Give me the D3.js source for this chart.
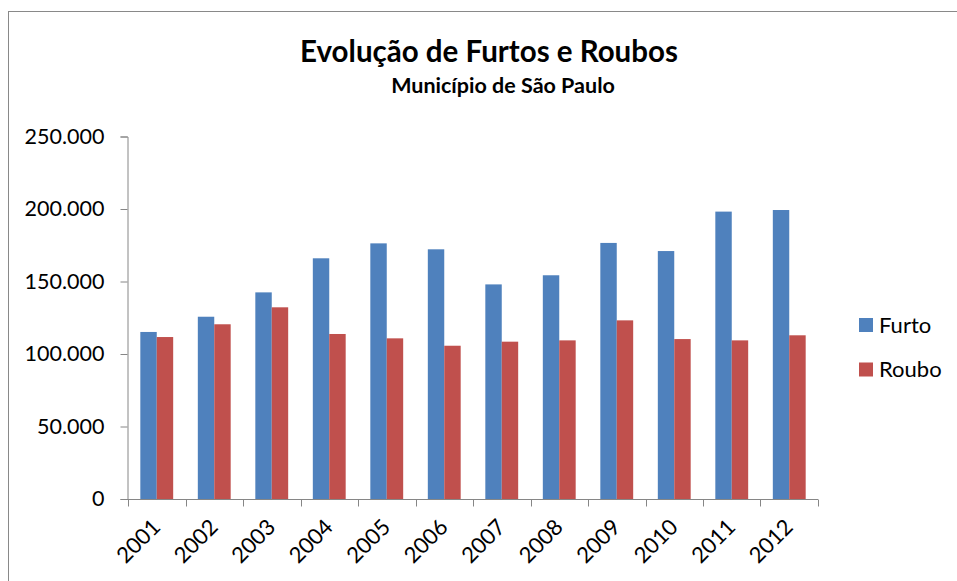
<!DOCTYPE html>
<html>
<head>
<meta charset="utf-8">
<script src="https://cdn.jsdelivr.net/npm/d3@7"></script>
<style>
  html, body { margin: 0; padding: 0; background: #fff; }
  svg { display: block; }
  text { font-family: Lato, "Open Sans", sans-serif; fill: #000; }
</style>
</head>
<body>
<svg id="chart" width="957" height="581"></svg>
<script>
const years = ["2001","2002","2003","2004","2005","2006","2007","2008","2009","2010","2011","2012"];
const furto = [115200,125700,142500,166000,176300,172200,148000,154300,176600,171000,198200,199300];
const roubo = [111700,120500,132200,113800,110800,105700,108500,109400,123200,110300,109400,112900];
const seriesNames = ["Furto","Roubo"];
const seriesColors = ["#4F81BD","#C0504D"];
const yTicks = [0,50000,100000,150000,200000,250000];
const title = "Evolução de Furtos e Roubos";
const subtitle = "Município de São Paulo";

const svg = d3.select("#chart");
const axisColor = "#868686";

// chart border
svg.append("rect")
  .attr("x", 8.5).attr("y", 11.5)
  .attr("width", 960).attr("height", 600)
  .attr("fill", "#fff").attr("stroke", "#898989").attr("stroke-width", 1);

const x0 = d3.scaleBand().domain(years).range([128, 818])
  .paddingInner(1.5/3.5).paddingOuter(0.75/3.5);
const x1 = d3.scaleBand().domain(seriesNames).range([0, x0.bandwidth()]);
const y = d3.scaleLinear().domain([0, 250000]).range([499, 136.5]);

const fmt = v => d3.format(",")(v).replace(/,/g, ".");

// bars
const data = years.map((yr, i) => ({year: yr, values: [furto[i], roubo[i]]}));
const groups = svg.append("g").selectAll("g").data(data).join("g")
  .attr("transform", d => `translate(${x0(d.year)},0)`);
groups.selectAll("rect").data(d => d.values.map((v, j) => ({v, j})))
  .join("rect")
  .attr("x", d => x1(seriesNames[d.j]))
  .attr("y", d => y(d.v))
  .attr("width", x1.bandwidth())
  .attr("height", d => y(0) - y(d.v))
  .attr("fill", d => seriesColors[d.j]);

// y axis
const yAxis = svg.append("g").attr("transform", "translate(127.5,0)")
  .call(d3.axisLeft(y).tickValues(yTicks).tickFormat(fmt).tickSize(7).tickPadding(16));
yAxis.select(".domain").attr("stroke", axisColor);
yAxis.selectAll(".tick line").attr("stroke", axisColor);
yAxis.selectAll(".tick text").attr("font-size", "21.5px").attr("font-family", "Lato").attr("fill", "#000");

// x axis
const xLin = d3.scaleLinear().domain([0, years.length]).range([128, 818]);
const xAxisG = svg.append("g").attr("transform", "translate(0,499.5)");
xAxisG.append("line").attr("x1", 127.5).attr("x2", 818).attr("stroke", axisColor);
xAxisG.selectAll("line.tk").data(d3.range(years.length + 1)).join("line")
  .attr("class", "tk")
  .attr("x1", i => Math.round(xLin(i)) + 0.5).attr("x2", i => Math.round(xLin(i)) + 0.5)
  .attr("y1", 0).attr("y2", 7).attr("stroke", axisColor);
xAxisG.selectAll("text").data(years).join("text")
  .attr("text-anchor", "end")
  .attr("font-size", "22px")
  .attr("transform", d => `translate(${x0(d) + x0.bandwidth()/2 + 5},${29}) rotate(-45)`)
  .text(d => d);

// titles
svg.append("text").attr("x", 489).attr("y", 62).attr("text-anchor", "middle")
  .attr("font-size", "29.5px").attr("font-weight", "bold").text(title);
svg.append("text").attr("x", 503).attr("y", 93).attr("text-anchor", "middle")
  .attr("font-size", "21.5px").attr("font-weight", "bold").text(subtitle);

// legend
const leg = svg.append("g");
seriesNames.forEach((n, i) => {
  const ly = 318 + i * 44.5;
  leg.append("rect").attr("x", 859).attr("y", ly).attr("width", 14).attr("height", 14)
    .attr("fill", seriesColors[i]);
  leg.append("text").attr("x", 879).attr("y", ly + 14.5).attr("font-size", "22px").text(n);
});
</script>
</body>
</html>
